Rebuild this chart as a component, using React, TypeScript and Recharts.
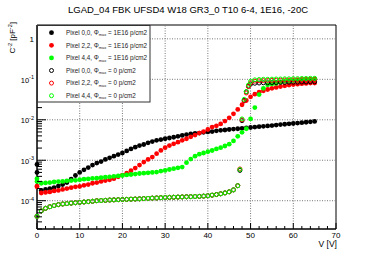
import {
  ReferenceArea,
  ReferenceLine,
  Scatter,
  ScatterChart,
  XAxis,
  YAxis,
} from "recharts";

const W = 374;
const H = 255;
const FONT = '"Liberation Sans", Arial, Helvetica, sans-serif';

const chartTitle = "LGAD_04 FBK UFSD4 W18 GR3_0 T10 6-4, 1E16, -20C";

const xMajorTicks = [0, 10, 20, 30, 40, 50, 60, 70];
const yMajorTicks = [1e-4, 1e-3, 1e-2, 1e-1, 1];
const yDomain = [2e-5, 2.2];

// irradiated pixels: bias in V, C^-2 in pF^-2
const filledVolts = [
  0, 0, 1, 2, 3, 4, 5, 6, 7, 8, 9, 10, 11, 12, 13, 14, 15, 16, 17, 18, 19, 20, 21, 22,
  23, 24, 25, 26, 27, 28, 29, 30, 31, 32, 33, 34, 35, 36, 37, 38, 39, 40, 41, 42, 43,
  44, 45, 46, 47, 48, 49, 50, 51, 52, 53, 54, 55, 56, 57, 58, 59, 60, 61, 62, 63, 64, 65,
];
const pixel00Irr = [
  7.9e-4, 5.0e-4, 1.8e-4, 1.9e-4, 2.0e-4, 2.1e-4, 2.3e-4, 2.5e-4, 2.8e-4, 3.4e-4, 4.2e-4,
  5.0e-4, 5.8e-4, 6.6e-4, 7.6e-4, 8.5e-4, 9.3e-4, 1.05e-3, 1.15e-3, 1.26e-3, 1.38e-3,
  1.51e-3, 1.7e-3, 1.9e-3, 2.1e-3, 2.3e-3, 2.45e-3, 2.7e-3, 2.9e-3, 3.1e-3, 3.25e-3,
  3.4e-3, 3.55e-3, 3.7e-3, 3.9e-3, 4.1e-3, 4.3e-3, 4.45e-3, 4.6e-3, 4.7e-3, 4.9e-3,
  5.0e-3, 5.1e-3, 5.35e-3, 5.5e-3, 5.6e-3, 5.75e-3, 5.9e-3, 6.0e-3, 6.15e-3, 6.3e-3,
  6.45e-3, 6.6e-3, 6.75e-3, 6.9e-3, 7.05e-3, 7.2e-3, 7.4e-3, 7.6e-3, 7.75e-3, 7.95e-3,
  8.1e-3, 8.3e-3, 8.5e-3, 8.7e-3, 8.9e-3, 9.1e-3,
];
const pixel22Irr = [
  2.3e-4, 2.2e-4, 1.55e-4, 1.6e-4, 1.65e-4, 1.75e-4, 1.8e-4, 1.9e-4, 2.0e-4, 2.1e-4,
  2.2e-4, 2.25e-4, 2.4e-4, 2.5e-4, 2.7e-4, 2.8e-4, 3.0e-4, 3.15e-4, 3.3e-4, 3.5e-4,
  3.9e-4, 4.3e-4, 4.8e-4, 5.5e-4, 6.4e-4, 7.6e-4, 9.0e-4, 1.05e-3, 1.2e-3, 1.45e-3,
  1.75e-3, 2.05e-3, 2.3e-3, 2.55e-3, 2.8e-3, 3.1e-3, 3.4e-3, 3.8e-3, 4.2e-3, 4.7e-3,
  5.1e-3, 5.75e-3, 6.6e-3, 7.1e-3, 7.9e-3, 9.3e-3, 1.12e-2, 1.4e-2, 1.8e-2, 2.35e-2,
  3.0e-2, 3.7e-2, 4.3e-2, 4.8e-2, 5.2e-2, 5.6e-2, 6.0e-2, 6.3e-2, 6.6e-2, 6.9e-2,
  7.2e-2, 7.4e-2, 7.6e-2, 7.8e-2, 7.9e-2, 8.1e-2, 8.1e-2,
];
const pixel44Irr = [
  3.5e-4, 3.0e-4, 2.7e-4, 2.75e-4, 2.8e-4, 2.9e-4, 2.95e-4, 3.0e-4, 3.1e-4, 3.15e-4,
  3.2e-4, 3.3e-4, 3.4e-4, 3.45e-4, 3.55e-4, 3.6e-4, 3.7e-4, 3.8e-4, 3.9e-4, 4.0e-4,
  4.1e-4, 4.2e-4, 4.35e-4, 4.45e-4, 4.55e-4, 4.7e-4, 4.8e-4, 4.9e-4, 5.0e-4, 5.1e-4,
  5.4e-4, 5.6e-4, 5.9e-4, 6.2e-4, 6.5e-4, 6.8e-4, 8.7e-4, 1.07e-3, 1.26e-3, 1.41e-3,
  1.51e-3, 1.62e-3, 1.74e-3, 1.9e-3, 2.05e-3, 2.25e-3, 2.5e-3, 3.0e-3, 3.9e-3, 4.9e-3,
  6.0e-3, 1.05e-2, 2.0e-2, 4.2e-2, 6.0e-2, 7.3e-2, 7.7e-2, 7.9e-2, 8.5e-2, 8.9e-2,
  9.1e-2, 9.3e-2, 9.5e-2, 9.8e-2, 0.1, 0.1, 0.102,
];

// unirradiated pixels: the three overlap below full depletion
const openVoltsLow = [
  0, 1, 2, 3, 4, 5, 6, 7, 8, 9, 10, 11, 12, 13, 14, 15, 16, 17, 18, 19, 20, 21, 22, 23,
  24, 25, 26, 27, 28, 29, 30, 31, 32, 33, 34, 35, 36, 37, 38, 39, 40, 41, 42, 43, 44, 45,
  46, 47,
];
const unirrLow = [
  4.1e-5, 5.6e-5, 6.5e-5, 7.1e-5, 7.6e-5, 8.0e-5, 8.3e-5, 8.5e-5, 8.7e-5, 8.9e-5,
  9.1e-5, 9.3e-5, 9.5e-5, 9.7e-5, 1.0e-4, 1.01e-4, 1.02e-4, 1.04e-4, 1.05e-4, 1.06e-4,
  1.07e-4, 1.08e-4, 1.09e-4, 1.1e-4, 1.11e-4, 1.13e-4, 1.14e-4, 1.16e-4, 1.17e-4, 1.19e-4,
  1.2e-4, 1.21e-4, 1.22e-4, 1.23e-4, 1.24e-4, 1.25e-4, 1.26e-4, 1.27e-4, 1.28e-4, 1.3e-4,
  1.33e-4, 1.37e-4, 1.42e-4, 1.48e-4, 1.56e-4, 1.66e-4, 1.85e-4, 2.35e-4,
];
const openVoltsHigh = [
  47.5, 48, 48.5, 49, 49.5, 50, 51, 52, 53, 54, 55, 56, 57, 58, 59, 60, 61, 62, 63, 64, 65,
];
const pixel00UnirrHigh = [
  5.6e-4, 9.5e-3, 3.0e-2, 4.9e-2, 6.8e-2, 7.6e-2, 8.0e-2, 8.1e-2, 8.2e-2, 8.2e-2, 8.3e-2,
  8.3e-2, 8.4e-2, 8.4e-2, 8.5e-2, 8.5e-2, 8.5e-2, 8.6e-2, 8.6e-2, 8.7e-2, 8.7e-2,
];
const pixel22UnirrHigh = [
  6.1e-4, 1.0e-2, 2.9e-2, 4.6e-2, 6.6e-2, 8.2e-2, 9.0e-2, 9.2e-2, 9.3e-2, 9.4e-2, 9.4e-2,
  9.5e-2, 9.5e-2, 9.6e-2, 9.6e-2, 9.7e-2, 9.7e-2, 9.8e-2, 9.8e-2, 9.9e-2, 9.9e-2,
];
const pixel44UnirrHigh = [
  5.9e-4, 1.05e-2, 3.2e-2, 5.0e-2, 7.2e-2, 8.9e-2, 9.7e-2, 9.9e-2, 0.1, 0.1, 0.101,
  0.102, 0.102, 0.103, 0.103, 0.104, 0.104, 0.105, 0.105, 0.106, 0.106,
];

const zip = (vs: number[], cs: number[]) =>
  vs.slice(0, cs.length).map((v, i) => ({ v, c: cs[i] }));

const series = [
  { pixel: "0,0", fluence: "1E16", color: "#000000", open: false, data: zip(filledVolts, pixel00Irr) },
  { pixel: "2,2", fluence: "1E16", color: "#ff0000", open: false, data: zip(filledVolts, pixel22Irr) },
  { pixel: "4,4", fluence: "1E16", color: "#00ff00", open: false, data: zip(filledVolts, pixel44Irr) },
  {
    pixel: "0,0", fluence: "0", color: "#000000", open: true,
    data: [...zip(openVoltsLow, unirrLow), ...zip(openVoltsHigh, pixel00UnirrHigh)],
  },
  {
    pixel: "2,2", fluence: "0", color: "#ff0000", open: true,
    data: [...zip(openVoltsLow, unirrLow), ...zip(openVoltsHigh, pixel22UnirrHigh)],
  },
  {
    pixel: "4,4", fluence: "0", color: "#00ff00", open: true,
    data: [...zip(openVoltsLow, unirrLow), ...zip(openVoltsHigh, pixel44UnirrHigh)],
  },
];

// minor ticks like ROOT: every 2 V, and 2..9 per decade
const xTicks: number[] = [];
for (let i = 0; i < xMajorTicks.length - 1; i++) {
  for (let k = 0; k < 10; k += 2) xTicks.push(xMajorTicks[i] + k);
}
xTicks.push(xMajorTicks[xMajorTicks.length - 1]);

const yTicks: number[] = [];
[1e-5, ...yMajorTicks].forEach((d) => {
  for (let m = 1; m <= 9; m++) {
    const t = m * d;
    if (t >= yDomain[0] && t <= yDomain[1]) yTicks.push(t);
  }
});

const renderXTick = (props: any) => {
  const { x, y, payload } = props;
  const major = xMajorTicks.includes(payload.value);
  return (
    <g>
      <line x1={x} x2={x} y1={y} y2={y - (major ? 6 : 3)} stroke="#000" />
      {major && (
        <text x={x} y={y + 9} textAnchor="middle" fontSize={8} fontFamily={FONT} fill="#000">
          {payload.value}
        </text>
      )}
    </g>
  );
};

const renderYTick = (props: any) => {
  const { x, y, payload } = props;
  const lg = Math.log10(payload.value);
  const e = Math.round(lg);
  const major = Math.abs(lg - e) < 1e-6;
  return (
    <g>
      <line x1={x} x2={x + (major ? 9 : 5)} y1={y} y2={y} stroke="#000" />
      {major &&
        (e === 0 ? (
          <text x={x - 3} y={y + 3} textAnchor="end" fontSize={8} fontFamily={FONT} fill="#000">
            1
          </text>
        ) : (
          <text x={x - 3} y={y + 3.5} textAnchor="end" fontSize={7.5} fontFamily={FONT} fill="#000">
            10
            <tspan dy={-3.5} fontSize={5.5}>
              {e}
            </tspan>
          </text>
        ))}
    </g>
  );
};

const markerShape = (color: string, open: boolean) => (p: any) =>
  open ? (
    <circle cx={p.cx} cy={p.cy} r={2} fill="none" stroke={color} strokeWidth={1} />
  ) : (
    <circle cx={p.cx} cy={p.cy} r={2.4} fill={color} />
  );

const gridStyle = { stroke: "#777", strokeDasharray: "1 1.5", strokeWidth: 1 };

export default function App() {
  return (
    <div style={{ position: "absolute", left: 0, top: 0, width: W, height: H, background: "#fff" }}>
      <ScatterChart width={W} height={H} margin={{ top: 25, right: 38, bottom: 0, left: 0 }}>
        <XAxis
          type="number"
          dataKey="v"
          domain={[xMajorTicks[0], xMajorTicks[xMajorTicks.length - 1]]}
          ticks={xTicks}
          interval={0}
          height={26}
          tickSize={0}
          tickMargin={0}
          tickLine={false}
          tick={renderXTick}
          axisLine={{ stroke: "#000" }}
        />
        <YAxis
          type="number"
          dataKey="c"
          scale="log"
          domain={yDomain}
          allowDataOverflow
          ticks={yTicks}
          interval={0}
          width={37}
          tickSize={0}
          tickMargin={0}
          tickLine={false}
          tick={renderYTick}
          axisLine={{ stroke: "#000" }}
        />
        {xMajorTicks.slice(1, -1).map((t) => (
          <ReferenceLine key={"gx" + t} x={t} {...gridStyle} />
        ))}
        {yMajorTicks.map((t) => (
          <ReferenceLine key={"gy" + t} y={t} {...gridStyle} />
        ))}
        <ReferenceArea
          x1={xMajorTicks[0]}
          x2={xMajorTicks[xMajorTicks.length - 1]}
          y1={yDomain[0]}
          y2={yDomain[1]}
          fill="none"
          stroke="#000"
          strokeOpacity={1}
          fillOpacity={0}
        />
        {series.map((s, i) => (
          <Scatter
            key={i}
            data={s.data}
            fill={s.color}
            shape={markerShape(s.color, s.open)}
            isAnimationActive={false}
          />
        ))}
      </ScatterChart>

      <svg
        width={W}
        height={H}
        style={{ position: "absolute", left: 0, top: 0, pointerEvents: "none" }}
        fontFamily={FONT}
      >
        <text x={188} y={12.5} textAnchor="middle" fontSize={9.5} fill="#000">
          {chartTitle}
        </text>
        <text transform="translate(14.5,22) rotate(-90)" textAnchor="end" fontSize={8} fill="#000">
          C<tspan dy={-3} fontSize={5.5}>-2</tspan>
          <tspan dy={3}> [pF</tspan>
          <tspan dy={-3} fontSize={5.5}>-2</tspan>
          <tspan dy={3}>]</tspan>
        </text>
        <text x={337} y={247} textAnchor="end" fontSize={8.5} fill="#000">
          V [V]
        </text>

        <rect x={37.5} y={25.5} width={112.5} height={76.5} fill="#fff" stroke="#333" strokeWidth={1} />
        {series.map((s, i) => {
          const cy = 32.7 + i * 12.6;
          return (
            <g key={i}>
              {s.open ? (
                <circle cx={51.5} cy={cy} r={2} fill="none" stroke={s.color} strokeWidth={1} />
              ) : (
                <circle cx={51.5} cy={cy} r={2.4} fill={s.color} />
              )}
              <text x={66} y={cy + 2.2} fontSize={6.3} fill="#222">
                Pixel {s.pixel}, Φ
                <tspan dy={1.5} fontSize={4}>
                  max
                </tspan>
                <tspan dy={-1.5}> = {s.fluence} p/cm2</tspan>
              </text>
            </g>
          );
        })}
      </svg>
    </div>
  );
}
